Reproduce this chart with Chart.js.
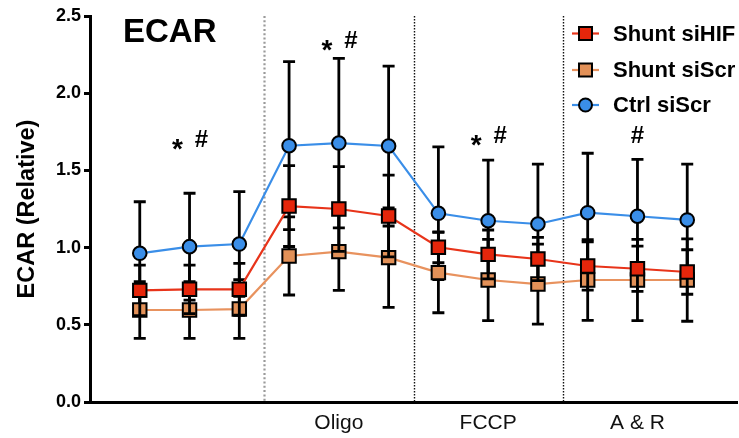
<!DOCTYPE html>
<html>
<head>
<meta charset="utf-8">
<script src="https://cdn.jsdelivr.net/npm/chart.js@4.4.1/dist/chart.umd.min.js"></script>
<style>
    html, body { margin: 0; padding: 0; background: #fff; }
    #wrap { width: 739px; height: 438px; }
</style>
</head>
<body>
<div id="wrap"><canvas id="ecarChart"></canvas></div>
<script>
const TIME_POINTS = [1, 2, 3, 4, 5, 6, 7, 8, 9, 10, 11, 12];
const PHASE_LABELS = ["Oligo", "FCCP", "A & R"];
const PHASE_LABEL_POSITIONS = [5, 8, 11];
const PHASE_BOUNDARIES = [3.5, 6.5, 9.5];

const shuntSiHifMean = [0.723, 0.730, 0.730, 1.269, 1.250, 1.205, 1.002, 0.956, 0.926, 0.881, 0.863, 0.842];
const shuntSiHifSd = [0.164, 0.157, 0.168, 0.262, 0.274, 0.265, 0.100, 0.158, 0.140, 0.156, 0.147, 0.144];

const shuntSiScrMean = [0.596, 0.596, 0.602, 0.946, 0.974, 0.935, 0.838, 0.790, 0.764, 0.790, 0.790, 0.790];
const shuntSiScrSd = [0.184, 0.184, 0.190, 0.253, 0.251, 0.322, 0.260, 0.263, 0.259, 0.261, 0.263, 0.267];

const ctrlSiScrMean = [0.963, 1.006, 1.023, 1.660, 1.677, 1.658, 1.222, 1.174, 1.153, 1.226, 1.203, 1.179];
const ctrlSiScrSd = [0.334, 0.346, 0.339, 0.544, 0.549, 0.518, 0.430, 0.393, 0.388, 0.385, 0.369, 0.361];

const SIG_X = [2, 5, 8, 11];
const SIG_Y = [1.652, 2.293, 1.677, 1.677];
const SIG_STAR = [true, true, true, false];

const SERIES = [
    { label: "Shunt siHIF", mean: shuntSiHifMean, sd: shuntSiHifSd, line: "#e8341a", fill: "#e5260b", style: "rect" },
    { label: "Shunt siScr", mean: shuntSiScrMean, sd: shuntSiScrSd, line: "#e8925e", fill: "#e39158", style: "rect" },
    { label: "Ctrl siScr", mean: ctrlSiScrMean, sd: ctrlSiScrSd, line: "#3a8ee8", fill: "#3a8ee8", style: "circle" }
];

const FONT = "'Liberation Sans', Arial, Helvetica, sans-serif";

function buildDataset(series) {

    return {
        label: series.label,
        data: TIME_POINTS.map((t, i) => ({ x: t, y: series.mean[i] })),
        borderColor: series.line,
        borderWidth: 2.2,
        backgroundColor: series.fill,
        pointBackgroundColor: series.fill,
        pointBorderColor: "#000",
        pointBorderWidth: 2,
        pointStyle: series.style,
        pointRadius: series.style === "rect" ? 9.5 : 6.8,
        tension: 0,
        fill: false
    };
}

// error bars drawn just before each dataset, so later series cross earlier markers
const errorBarPlugin = {
    id: "errorBars",
    beforeDatasetDraw(chart, args) {

        const series = SERIES[args.index];
        const xScale = chart.scales.x;
        const yScale = chart.scales.y;
        const ctx = chart.ctx;

        ctx.save();
        ctx.strokeStyle = "#000";
        ctx.lineWidth = 2.8;

        TIME_POINTS.forEach((t, i) => {

            const px = xScale.getPixelForValue(t);
            const top = yScale.getPixelForValue(series.mean[i] + series.sd[i]);
            const bottom = yScale.getPixelForValue(series.mean[i] - series.sd[i]);

            ctx.beginPath();
            ctx.moveTo(px, top);
            ctx.lineTo(px, bottom);
            ctx.moveTo(px - 6, top);
            ctx.lineTo(px + 6, top);
            ctx.moveTo(px - 6, bottom);
            ctx.lineTo(px + 6, bottom);
            ctx.stroke();
        });

        ctx.restore();
    }
};

const decorPlugin = {
    id: "decor",
    beforeDatasetsDraw(chart) {

        const { ctx, chartArea } = chart;
        const xScale = chart.scales.x;

        ctx.save();

        PHASE_BOUNDARIES.forEach((b, i) => {

            const px = Math.round(xScale.getPixelForValue(b)) + 0.5;

            ctx.beginPath();
            if (i === 0) {
                ctx.strokeStyle = "#9a9a9a";
                ctx.lineWidth = 2.2;
                ctx.setLineDash([2, 2.3]);
            } else {
                ctx.strokeStyle = "#111";
                ctx.lineWidth = 1.4;
                ctx.setLineDash([1.4, 1.6]);
            }
            ctx.moveTo(px, chartArea.top);
            ctx.lineTo(px, chartArea.bottom);
            ctx.stroke();
        });

        ctx.restore();
    },
    afterDraw(chart) {

        const ctx = chart.ctx;
        const xScale = chart.scales.x;
        const yScale = chart.scales.y;

        ctx.save();
        ctx.fillStyle = "#000";

        // panel title
        ctx.font = "bold 33px " + FONT;
        ctx.textAlign = "left";
        ctx.textBaseline = "alphabetic";
        ctx.fillText("ECAR", 123, 42);

        // significance marks
        SIG_X.forEach((x, i) => {

            const px = xScale.getPixelForValue(x);
            const py = yScale.getPixelForValue(SIG_Y[i]);

            ctx.textAlign = "center";
            ctx.font = "bold 24px " + FONT;

            if (SIG_STAR[i]) {
                ctx.fillText("#", px + 12, py);
                ctx.font = "bold 28px " + FONT;
                ctx.fillText("*", px - 12, py + 11);
            } else {
                ctx.fillText("#", px, py);
            }
        });

        // legend
        const rows = [33.5, 70, 105];

        SERIES.forEach((series, i) => {

            const y = rows[i];

            ctx.strokeStyle = series.line;
            ctx.lineWidth = 2.2;
            ctx.beginPath();
            ctx.moveTo(572, y);
            ctx.lineTo(599, y);
            ctx.stroke();

            ctx.fillStyle = series.fill;
            ctx.strokeStyle = "#000";
            ctx.lineWidth = 2;
            ctx.beginPath();
            if (series.style === "rect") {
                ctx.rect(579, y - 6.5, 13, 13);
            } else {
                ctx.arc(585.5, y, 6.5, 0, Math.PI * 2);
            }
            ctx.fill();
            ctx.stroke();

            ctx.fillStyle = "#000";
            ctx.font = "bold 22px " + FONT;
            ctx.textAlign = "left";
            ctx.textBaseline = "middle";
            ctx.fillText(series.label, 613, y + 1);
        });

        ctx.restore();
    }
};

new Chart(document.getElementById("ecarChart"), {
    type: "line",
    data: {
        datasets: SERIES.map(buildDataset)
    },
    options: {
        responsive: true,
        maintainAspectRatio: false,
        animation: false,
        layout: {
            autoPadding: false,
            padding: { left: 0, right: 2, top: 16, bottom: 0 }
        },
        plugins: {
            legend: { display: false },
            tooltip: { enabled: false }
        },
        scales: {
            x: {
                type: "linear",
                min: 0,
                max: 13,
                afterBuildTicks(axis) {
                    axis.ticks = PHASE_LABEL_POSITIONS.map((v) => ({ value: v }));
                },
                afterFit(axis) {
                    axis.height = 36;
                },
                grid: { display: false, drawTicks: false },
                border: { display: true, color: "#000", width: 3 },
                ticks: {
                    color: "#111",
                    padding: 9,
                    maxRotation: 0,
                    font: { family: FONT, size: 21 },
                    callback(value) {
                        const idx = PHASE_LABEL_POSITIONS.indexOf(value);
                        return idx >= 0 ? PHASE_LABELS[idx] : "";
                    }
                }
            },
            y: {
                min: 0,
                max: 2.5,
                afterFit(axis) {
                    axis.width = 90;
                },
                grid: {
                    drawOnChartArea: false,
                    color: "#000",
                    lineWidth: 3,
                    tickLength: 6
                },
                border: { display: true, color: "#000", width: 3 },
                ticks: {
                    stepSize: 0.5,
                    color: "#000",
                    padding: 3,
                    font: { family: FONT, size: 18, weight: "bold" },
                    callback(value) {
                        return value.toFixed(1);
                    }
                },
                title: {
                    display: true,
                    text: "ECAR (Relative)",
                    color: "#000",
                    padding: { top: 13, bottom: 0 },
                    font: { family: FONT, size: 23.5, weight: "bold" }
                }
            }
        }
    },
    plugins: [errorBarPlugin, decorPlugin]
});
</script>
</body>
</html>
